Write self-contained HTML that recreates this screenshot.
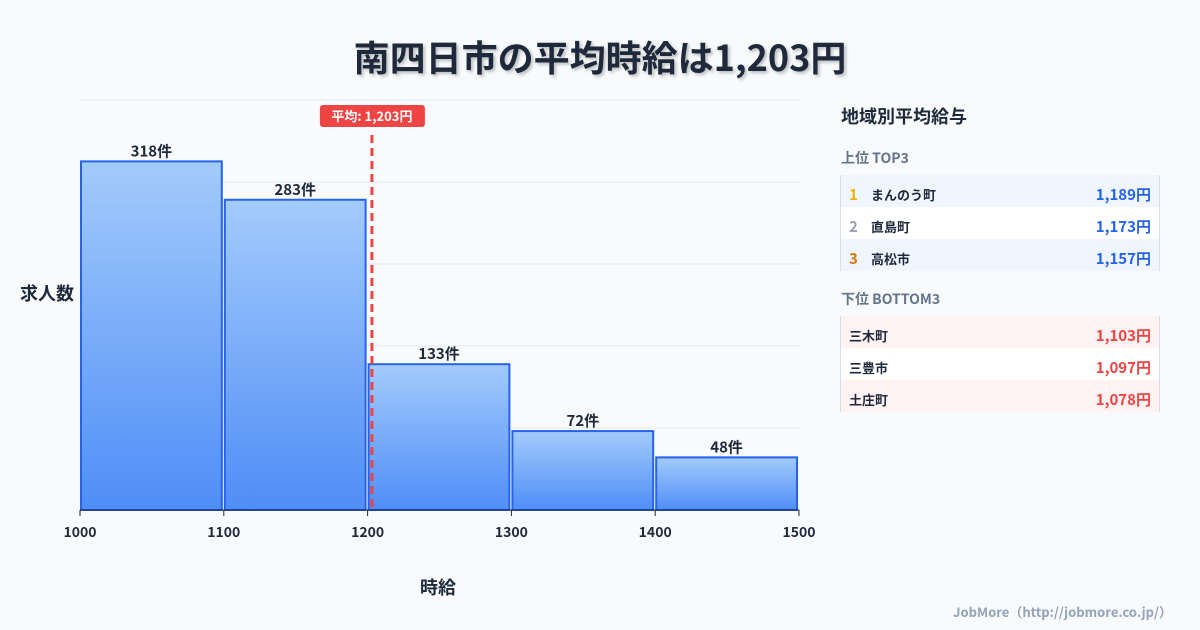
<!DOCTYPE html>
<html><head><meta charset="utf-8"><style>
body{margin:0;width:1200px;height:630px;background:#f8fafc;font-family:"Liberation Sans","Noto Sans CJK JP",sans-serif;position:relative;overflow:hidden;color:#1e293b}
.t{position:absolute;white-space:nowrap}
.title{left:0;width:1200px;text-align:center;top:30px;font-size:36px;font-weight:bold;color:#1e293b;text-shadow:2px 2px 3px rgba(0,0,0,0.25);font-family:"Noto Sans CJK JP",sans-serif}
.row{position:absolute;left:840px;width:320px;height:32px;border-right:1px solid #d8dee6;border-left:1px solid #d8dee6;box-sizing:border-box;font-size:13px;font-weight:bold;font-family:"Noto Sans CJK JP",sans-serif}
.row span{position:absolute;top:10px}
.row .v{right:8px;font-size:15px;top:9px}
</style></head><body>
<div class="t title">南四日市の平均時給は1,203円</div>
<svg width="1200" height="630" style="position:absolute;left:0;top:0">
<defs><linearGradient id="g" x1="0" y1="0" x2="0" y2="1"><stop offset="0" stop-color="#a3cbfb"/><stop offset="1" stop-color="#4f8ef7"/></linearGradient></defs>
<g id="grid"></g><g id="bars"></g><g id="ax"></g>
</svg>
<div class="t" style="left:20px;top:280px;font-size:18px;font-weight:bold;font-family:'Noto Sans CJK JP',sans-serif">求人数</div>
<div class="t" style="left:420px;top:574px;font-size:18px;font-weight:bold;font-family:'Noto Sans CJK JP',sans-serif">時給</div>
<div class="t" style="left:841px;top:103px;font-size:18px;font-weight:bold;font-family:'Noto Sans CJK JP',sans-serif">地域別平均給与</div>
<div class="t" style="left:841px;top:148px;font-size:14px;font-weight:bold;color:#64748b;font-family:'Noto Sans CJK JP',sans-serif">上位 TOP3</div>
<div class="row" style="top:175px;background:#eff6ff"><span style="left:8px;color:#eab308;font-size:15px;top:9px">1</span><span style="left:30px">まんのう町</span><span class="v" style="color:#2563eb">1,189円</span></div>
<div class="row" style="top:207px;background:#fff"><span style="left:8px;color:#9ca3af;font-size:15px;top:9px">2</span><span style="left:30px">直島町</span><span class="v" style="color:#2563eb">1,173円</span></div>
<div class="row" style="top:239px;background:#eff6ff"><span style="left:8px;color:#d97706;font-size:15px;top:9px">3</span><span style="left:30px">高松市</span><span class="v" style="color:#2563eb">1,157円</span></div>
<div class="t" style="left:841px;top:289px;font-size:14px;font-weight:bold;color:#64748b;font-family:'Noto Sans CJK JP',sans-serif">下位 BOTTOM3</div>
<div class="row" style="top:316px;background:#fef2f2"><span style="left:8px">三木町</span><span class="v" style="color:#ef4444">1,103円</span></div>
<div class="row" style="top:348px;background:#fff"><span style="left:8px">三豊市</span><span class="v" style="color:#ef4444">1,097円</span></div>
<div class="row" style="top:380px;background:#fef2f2"><span style="left:8px">土庄町</span><span class="v" style="color:#ef4444">1,078円</span></div>
<div class="t" style="right:28px;top:602px;font-size:13px;font-weight:bold;color:#94a3b8;font-family:'Noto Sans CJK JP',sans-serif">JobMore（http://jobmore.co.jp/）</div>
<script>
const binStarts=[1000,1100,1200,1300,1400];
const counts=[318,283,133,72,48];
const xTicks=[1000,1100,1200,1300,1400,1500];
const avgWage=1203;
const avgLabel="平均: 1,203円";
const X0=80,X1=799,Y0=510,YT=100,XMIN=1000,XMAX=1500,YMAX=374;
const sx=v=>X0+(v-XMIN)/(XMAX-XMIN)*(X1-X0);
const sy=v=>Y0-v/YMAX*(Y0-YT);
const NS="http://www.w3.org/2000/svg";
function mk(tag,attrs,parent,txt){const e=document.createElementNS(NS,tag);for(const k in attrs)e.setAttribute(k,attrs[k]);if(txt!=null)e.textContent=txt;document.getElementById(parent).appendChild(e);return e;}
for(let i=0;i<=5;i++){const y=YT+i*(Y0-YT)/5;const l=mk('line',{x1:X0,x2:X1+2,y1:y,y2:y,stroke:'#e2e8f0','stroke-width':1},'grid');

}
binStarts.forEach((b,i)=>{const x=sx(b)+1,w=sx(b+100)-sx(b)-3,y=sy(counts[i]);
const r=mk('rect',{x:x,y:y,width:w,height:Y0-y,fill:'url(#g)',stroke:'#2563eb','stroke-width':2},'bars');


const t=mk('text',{x:x+w/2,y:y-5,'text-anchor':'middle','font-size':15,'font-weight':'bold',fill:'#1e293b','font-family':'Noto Sans CJK JP,sans-serif'},'bars',counts[i]+'件');

});
mk('line',{x1:X0,x2:X1,y1:Y0,y2:Y0,stroke:'#1e293b','stroke-width':1},'ax');
xTicks.forEach(v=>{mk('line',{x1:sx(v),x2:sx(v),y1:Y0,y2:Y0+6,stroke:'#1e293b'},'ax');
const t=mk('text',{x:sx(v),y:Y0+27,'text-anchor':'middle','font-size':14,'font-weight':'bold',fill:'#1e293b','font-family':'Noto Sans CJK JP,sans-serif'},'ax',v);

});
const ax=sx(avgWage);
const al=mk('line',{x1:ax,x2:ax,y1:135,y2:Y0,stroke:'#ef4444','stroke-width':3,'stroke-dasharray':'8,5'},'ax');


const br=mk('rect',{x:ax-52,y:105,width:105,height:22,rx:3,fill:'#ef4444'},'ax');


const bt=mk('text',{x:ax,y:121,'text-anchor':'middle','font-size':13,'font-weight':'bold',fill:'#fff','font-family':'Noto Sans CJK JP,sans-serif'},'ax',avgLabel);


</script>
</body></html>
